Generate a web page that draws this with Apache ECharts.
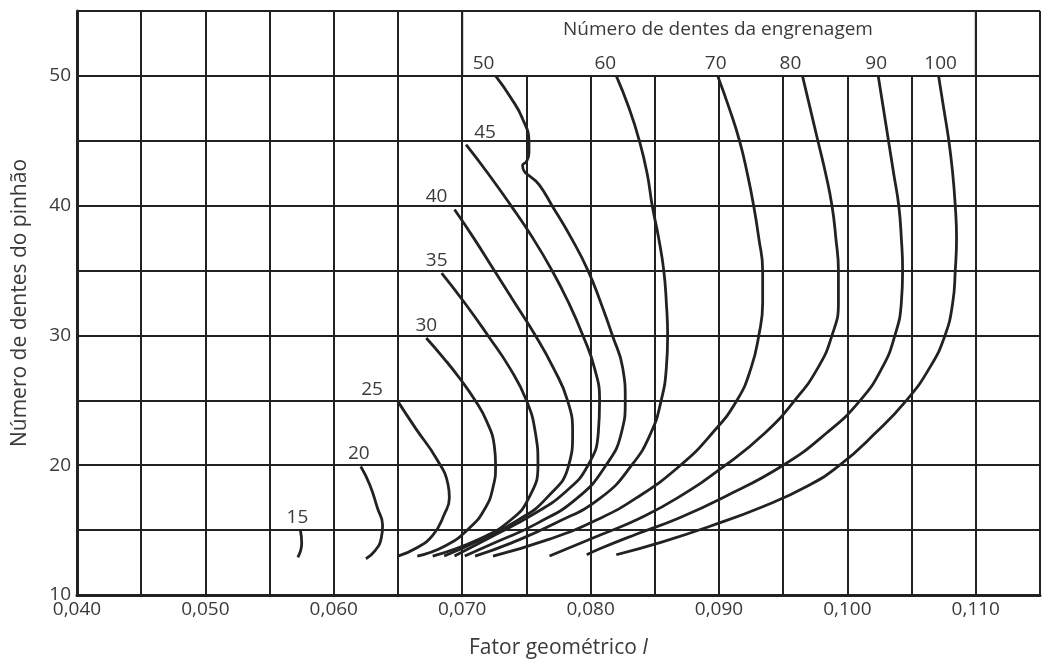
<!DOCTYPE html>
<html>
    <head>
        <meta charset="UTF-8">
        <script src="https://cdn.jsdelivr.net/npm/echarts@6/dist/echarts.min.js"></script>
    </head>
    <body style="margin:0;background:#fff">
        <div id="main" style="width:1043px;height:664px"></div>
        <script type="text/javascript">
            // curve data: [fator geometrico I, numero de dentes do pinhao]
            var c15 = [[0.0574,15.0],[0.0575,14.0],[0.0572,12.9]];
            var c20 = [[0.0621,19.9],[0.0628,18.5],[0.0634,16.7],[0.0638,15.4],[0.0637,14.4],[0.0632,13.4],[0.0625,12.8]];
            var c25 = [[0.0650,24.9],[0.0664,22.8],[0.0680,20.5],[0.0689,18.5],[0.0690,17.5],[0.0686,16.2],[0.0677,14.6],[0.0664,13.6],[0.0650,13.0]];
            var c30 = [[0.0672,29.8],[0.0686,28.2],[0.0698,26.7],[0.0710,25.0],[0.0719,23.4],[0.0725,21.5],[0.0726,20.0],[0.0724,18.3],[0.0718,16.7],[0.0706,15.2],[0.0687,13.8],[0.0665,13.0]];
            var c35 = [[0.0684,34.8],[0.0702,32.5],[0.0720,30.0],[0.0737,27.5],[0.0750,25.0],[0.0757,22.5],[0.0759,20.0],[0.0752,17.5],[0.0738,15.8],[0.0713,14.3],[0.0677,13.0]];
            var c40 = [[0.0694,39.7],[0.0709,37.5],[0.0725,35.0],[0.0741,32.5],[0.0757,30.0],[0.0771,27.5],[0.0782,25.0],[0.0786,22.5],[0.0783,20.0],[0.0766,17.5],[0.0744,15.8],[0.0713,14.2],[0.0686,13.0]];
            var c45 = [[0.0703,44.7],[0.0720,42.5],[0.0738,40.0],[0.0755,37.5],[0.0770,35.0],[0.0783,32.5],[0.0794,30.0],[0.0803,27.5],[0.0807,25.0],[0.0806,22.5],[0.0798,20.0],[0.0781,18.0],[0.0755,16.2],[0.0721,14.4],[0.0694,13.0]];
            var c50 = [[0.0726,50.0],[0.0738,48.3],[0.0747,46.7],[0.0752,44.9],[0.0752,44.1],[0.0750,43.4],[0.0747,43.1],[0.0760,41.6],[0.0770,40.0],[0.0785,37.5],[0.0798,35.0],[0.0808,32.5],[0.0817,30.0],[0.0825,27.5],[0.0827,25.0],[0.0824,22.5],[0.0812,20.0],[0.0790,17.5],[0.0758,15.5],[0.0727,14.1],[0.0702,13.0]];
            var c60 = [[0.0820,50.0],[0.0830,47.5],[0.0838,45.0],[0.0844,42.5],[0.0848,40.0],[0.0853,37.5],[0.0857,35.0],[0.0859,32.5],[0.0860,30.0],[0.0859,27.5],[0.0855,25.0],[0.0847,22.5],[0.0832,20.0],[0.0808,17.5],[0.0772,15.5],[0.0738,14.0],[0.0710,13.0]];
            var c70 = [[0.0899,50.0],[0.0908,47.5],[0.0916,45.0],[0.0922,42.5],[0.0927,40.0],[0.0931,37.5],[0.0934,35.0],[0.0934,32.5],[0.0931,30.0],[0.0925,27.5],[0.0914,25.0],[0.0895,22.5],[0.0870,20.0],[0.0836,17.5],[0.0805,15.8],[0.0768,14.3],[0.0724,13.0]];
            var c80 = [[0.0965,50.0],[0.0971,47.5],[0.0977,45.0],[0.0983,42.5],[0.0988,40.0],[0.0991,37.5],[0.0993,35.0],[0.0993,32.5],[0.0988,30.0],[0.0977,27.5],[0.0959,25.0],[0.0936,22.5],[0.0905,20.0],[0.0868,17.5],[0.0838,15.9],[0.0807,14.6],[0.0768,13.0]];
            var c90 = [[0.1024,50.0],[0.1028,47.5],[0.1032,45.0],[0.1036,42.5],[0.1040,40.0],[0.1042,37.5],[0.1043,35.0],[0.1042,32.5],[0.1037,30.0],[0.1027,27.5],[0.1010,25.0],[0.0984,22.5],[0.0950,20.0],[0.0903,17.5],[0.0868,15.9],[0.0836,14.7],[0.0808,13.6],[0.0797,13.1]];
            var c100 = [[0.1071,50.0],[0.1075,47.5],[0.1079,45.0],[0.1082,42.5],[0.1084,40.0],[0.1085,37.5],[0.1084,35.0],[0.1082,32.5],[0.1076,30.0],[0.1064,27.5],[0.1046,25.0],[0.1022,22.5],[0.0994,20.0],[0.0969,18.4],[0.0934,16.8],[0.0893,15.3],[0.0856,14.1],[0.0820,13.1]];

            var curveNames = ['15','20','25','30','35','40','45','50','60','70','80','90','100'];
            var curveData = [c15,c20,c25,c30,c35,c40,c45,c50,c60,c70,c80,c90,c100];

            // horizontal nudge of each curve's number label (px)
            var labelShift = {'15':-3,'20':-2,'25':-26,'30':0,'35':-5,'40':-18,'45':19,'50':-12,'60':-11,'70':-2,'80':-12,'90':-2,'100':2};

            var txt = '#3a3a3a';
            var font = 'Open Sans';

            var chart = echarts.init(document.getElementById('main'));

            var series = curveData.map(function(pts, i) {
                var name = curveNames[i];
                var data = pts.map(function(p, k) {
                    if (k === 0) {
                        return {
                            value: p,
                            label: {
                                show: true,
                                position: 'top',
                                distance: 3,
                                offset: [labelShift[name], 0],
                                formatter: name,
                                color: txt,
                                fontSize: 19,
                                fontFamily: font
                            }
                        };
                    }
                    return p;
                });
                var s = {
                    name: name,
                    type: 'line',
                    data: data,
                    smooth: 0.5,
                    showSymbol: true,
                    symbolSize: 0,
                    symbol: 'circle',
                    silent: true,
                    z: 3,
                    lineStyle: {color: '#222', width: 2.8},
                    itemStyle: {color: '#222'}
                };
                if (i === 0) {
                    s.markArea = {
                        silent: true,
                        itemStyle: {color: '#fff', borderColor: '#222', borderWidth: 2},
                        data: [[{coord: [0.070, 50]}, {coord: [0.110, 55]}]]
                    };
                }
                return s;
            });

            var option = {
                backgroundColor: '#fff',
                animation: false,
                grid: {left: 77, right: 2, top: 11, bottom: 67},
                graphic: [{
                    type: 'text',
                    x: 718,
                    y: 30,
                    z: 100,
                    style: {
                        text: 'Número de dentes da engrenagem',
                        align: 'center',
                        verticalAlign: 'middle',
                        fill: txt,
                        fontSize: 19,
                        fontFamily: font
                    }
                }],
                xAxis: {
                    type: 'value',
                    min: 0.040,
                    max: 0.115,
                    interval: 0.005,
                    name: 'Fator geométrico {i|I}',
                    nameLocation: 'middle',
                    nameGap: 43,
                    nameTextStyle: {
                        color: txt, fontSize: 21, fontFamily: font,
                        rich: {i: {fontStyle: 'italic', color: txt, fontSize: 21, fontFamily: font}}
                    },
                    axisLine: {lineStyle: {color: '#222', width: 3}},
                    axisTick: {show: false},
                    axisLabel: {
                        color: txt, fontSize: 19, fontFamily: font, margin: 5,
                        formatter: function(v) {
                            var m = Math.round(v * 1000);
                            return m % 10 === 0 ? (m / 1000).toFixed(3).replace('.', ',') : '';
                        }
                    },
                    splitLine: {show: true, lineStyle: {color: '#222', width: 2}}
                },
                yAxis: {
                    type: 'value',
                    min: 10,
                    max: 55,
                    interval: 5,
                    name: 'Número de dentes do pinhão',
                    nameLocation: 'middle',
                    nameGap: 46,
                    nameTextStyle: {color: txt, fontSize: 21, fontFamily: font},
                    axisLine: {show: true, lineStyle: {color: '#222', width: 3}},
                    axisTick: {show: false},
                    axisLabel: {
                        color: txt, fontSize: 19, fontFamily: font, margin: 6,
                        formatter: function(v) {
                            return (v % 10 === 0 && v <= 50) ? String(v) : '';
                        }
                    },
                    splitLine: {show: true, lineStyle: {color: '#222', width: 2}}
                },
                series: series
            };

            option && chart.setOption(option);
        </script>
    </body>
</html>
